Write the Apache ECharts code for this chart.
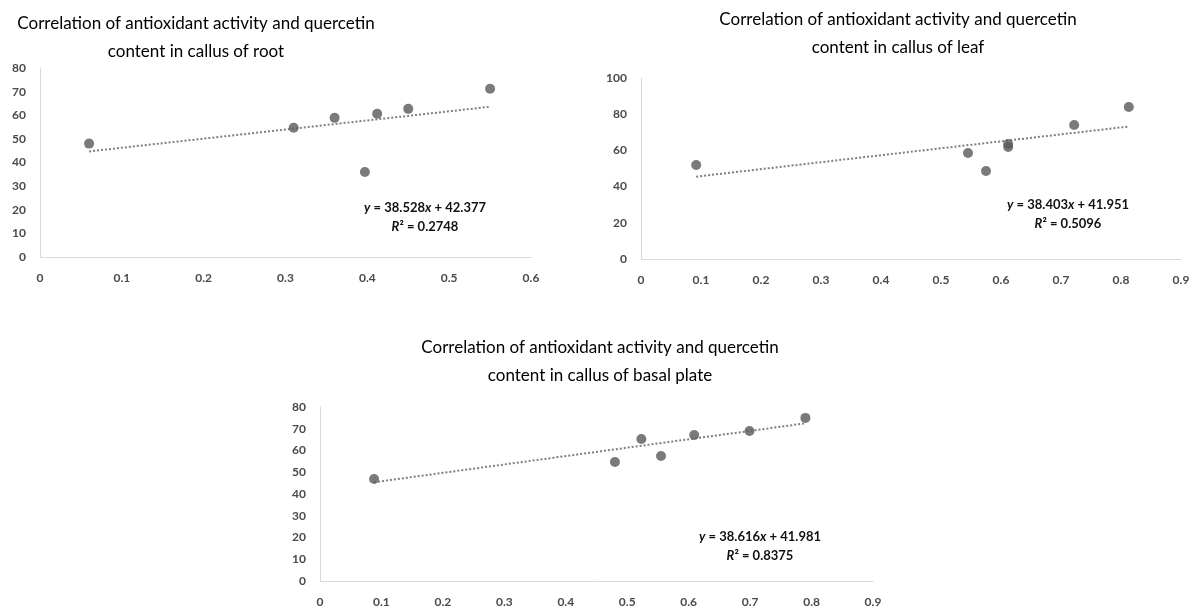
<!DOCTYPE html>
<html>
<head>
<meta charset="utf-8">
<script src="https://cdn.jsdelivr.net/npm/echarts@6/dist/echarts.min.js"></script>
<style>
  html, body { margin: 0; padding: 0; background: #fff; }
  #chart { width: 1195px; height: 613px; }
</style>
</head>
<body>
<div id="chart"></div>
<script>
// quercetin content (x) vs antioxidant activity (y)
const rootX = [0.06, 0.31, 0.36, 0.397, 0.412, 0.45, 0.55]
const rootY = [48, 54.7, 58.9, 36, 60.6, 62.7, 71.2]
const leafX = [0.092, 0.545, 0.575, 0.612, 0.612, 0.722, 0.813]
const leafY = [51.9, 58.6, 48.6, 61.9, 63.5, 74, 84]
const basalX = [0.088, 0.48, 0.523, 0.555, 0.609, 0.699, 0.79]
const basalY = [46.9, 54.7, 65.3, 57.5, 67.1, 69, 75]

// linear trendline end points
const rootTrendX = [0.06, 0.55]
const rootTrendY = [44.7, 63.6]
const leafTrendX = [0.092, 0.813]
const leafTrendY = [45.5, 73.2]
const basalTrendX = [0.088, 0.79]
const basalTrendY = [45.4, 72.5]

const titles = [
  'Correlation of antioxidant activity and quercetin\ncontent in callus of root',
  'Correlation of antioxidant activity and quercetin\ncontent in callus of leaf',
  'Correlation of antioxidant activity and quercetin\ncontent in callus of basal plate'
]
const equations = [
  ['38.528', '42.377', '0.2748'],
  ['38.403', '41.951', '0.5096'],
  ['38.616', '41.981', '0.8375']
]

const pairs = (xs, ys) => xs.map((x, i) => [x, ys[i]])

const grids = [
  { left: 40, top: 68, width: 491, height: 189 },
  { left: 641, top: 78, width: 540, height: 181 },
  { left: 320, top: 407, width: 553, height: 174 }
]
const xMax = [0.6, 0.9, 0.9]
const yMax = [80, 100, 80]
const yStep = [10, 20, 10]

const axisLabel = {
  color: '#4a4a4a',
  fontFamily: 'Lato',
  fontWeight: 'bold',
  fontSize: 12
}

const xAxes = grids.map((g, i) => ({
  type: 'value',
  gridIndex: i,
  min: 0,
  max: xMax[i],
  interval: 0.1,
  axisLine: { lineStyle: { color: '#d9d9d9' } },
  axisTick: { show: false },
  splitLine: { show: false },
  axisLabel: {
    ...axisLabel,
    margin: 15,
    formatter: v => v === 0 ? '0' : v.toFixed(1)
  }
}))

const yAxes = grids.map((g, i) => ({
  type: 'value',
  gridIndex: i,
  min: 0,
  max: yMax[i],
  interval: yStep[i],
  axisLine: { show: true, lineStyle: { color: '#d9d9d9' } },
  axisTick: { show: false },
  splitLine: { show: false },
  axisLabel: { ...axisLabel, margin: 14 }
}))

const scatterData = [pairs(rootX, rootY), pairs(leafX, leafY), pairs(basalX, basalY)]
const trendData = [
  pairs(rootTrendX, rootTrendY),
  pairs(leafTrendX, leafTrendY),
  pairs(basalTrendX, basalTrendY)
]

const series = []
for (let i = 0; i < 3; i++) {
  series.push({
    type: 'line',
    xAxisIndex: i,
    yAxisIndex: i,
    data: trendData[i],
    symbol: 'none',
    lineStyle: { color: '#7f7f7f', width: 2, type: [2, 2] },
    z: 1
  })
  series.push({
    type: 'scatter',
    xAxisIndex: i,
    yAxisIndex: i,
    data: scatterData[i],
    symbolSize: 10,
    itemStyle: { color: '#595959' },
    z: 2
  })
}

// title and equation positions
const titlePos = [[196, 38], [898, 34], [600, 362]]
const eqPos = [[425, 198], [1068, 195], [760, 527]]

const graphic = []
titlePos.forEach((p, i) => {
  graphic.push({
    type: 'text',
    x: p[0],
    y: p[1],
    style: {
      text: titles[i],
      font: '17px Lato',
      fill: '#000',
      align: 'center',
      verticalAlign: 'middle',
      textAlign: 'center',
      textVerticalAlign: 'middle',
      lineHeight: 28
    }
  })
})
eqPos.forEach((p, i) => {
  const e = equations[i]
  graphic.push({
    type: 'text',
    x: p[0],
    y: p[1],
    style: {
      text: '{i|y} = ' + e[0] + '{i|x} + ' + e[1] + '\n{i|R}² = ' + e[2],
      font: 'bold 13px Lato',
      fill: '#111',
      align: 'center',
      verticalAlign: 'top',
      textAlign: 'center',
      textVerticalAlign: 'top',
      lineHeight: 19,
      rich: {
        i: { fontStyle: 'italic', fontWeight: 'bold', fontSize: 13, fontFamily: 'Lato', fill: '#111' }
      }
    }
  })
})

const chart = echarts.init(document.getElementById('chart'))
chart.setOption({
  animation: false,
  backgroundColor: '#fff',
  grid: grids,
  xAxis: xAxes,
  yAxis: yAxes,
  series: series,
  graphic: graphic
})
</script>
</body>
</html>
